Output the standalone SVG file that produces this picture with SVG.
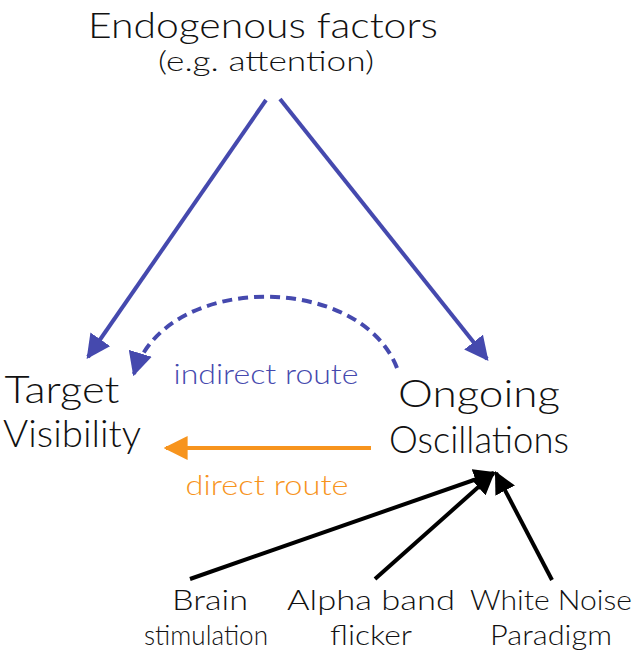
<svg xmlns="http://www.w3.org/2000/svg" width="638" height="657" viewBox="0 0 638 657">
<style>
text{font-family:Lato,"Open Sans","DejaVu Sans",sans-serif;font-weight:300;fill:#111;text-anchor:middle}
.big{font-size:38px}
.mid{font-size:28px}
.sm{font-size:28px}
.blue{stroke:#4549ae;stroke-width:4;fill:none}
.orange{stroke:#f7941d;stroke-width:4;fill:none}
.black{stroke:#000;stroke-width:4;fill:none}
</style>
<defs>
<marker id="ab" viewBox="0 0 10 10" refX="9" refY="5" markerWidth="6" markerHeight="6" markerUnits="strokeWidth" orient="auto"><path d="M0,0L10,5L0,10z" fill="#4549ae"/></marker>
<marker id="ao" viewBox="0 0 10 10" refX="9" refY="5" markerWidth="6" markerHeight="6" markerUnits="strokeWidth" orient="auto"><path d="M0,0L10,5L0,10z" fill="#f7941d"/></marker>
<marker id="ak" viewBox="0 0 10 10" refX="9" refY="5" markerWidth="5.5" markerHeight="5.5" markerUnits="strokeWidth" orient="auto"><path d="M0,0L10,5L0,10z" fill="#000"/></marker>
</defs>
<g id="endogenous">
<text x="263" y="38" style="font-size:36px" textLength="350" lengthAdjust="spacingAndGlyphs">Endogenous factors</text>
<text class="mid" x="266" y="71" textLength="216" lengthAdjust="spacingAndGlyphs">(e.g. attention)</text>
</g>
<g id="target">
<text class="big" x="62" y="403" textLength="115" lengthAdjust="spacingAndGlyphs">Target</text>
<text class="big" x="72" y="447" textLength="138" lengthAdjust="spacingAndGlyphs">Visibility</text>
</g>
<g id="oscillations">
<text class="big" x="479" y="407" textLength="162" lengthAdjust="spacingAndGlyphs">Ongoing</text>
<text class="big" x="479" y="453" textLength="180" lengthAdjust="spacingAndGlyphs">Oscillations</text>
</g>
<g id="brain">
<text class="sm" x="210" y="610" textLength="76" lengthAdjust="spacingAndGlyphs">Brain</text>
<text class="sm" x="206" y="645" textLength="124" lengthAdjust="spacingAndGlyphs">stimulation</text>
</g>
<g id="alpha">
<text class="sm" x="371" y="610" textLength="168" lengthAdjust="spacingAndGlyphs">Alpha band</text>
<text class="sm" x="371" y="645" textLength="82" lengthAdjust="spacingAndGlyphs">flicker</text>
</g>
<g id="whitenoise">
<text class="sm" x="551" y="610" textLength="162" lengthAdjust="spacingAndGlyphs">White Noise</text>
<text class="sm" x="551" y="645" textLength="122" lengthAdjust="spacingAndGlyphs">Paradigm</text>
</g>
<g id="connectors">
<line class="blue" x1="266" y1="100" x2="88" y2="357" marker-end="url(#ab)"/>
<line class="blue" x1="280" y1="99" x2="487" y2="359" marker-end="url(#ab)"/>
<path class="blue" d="M397,368 C360,272 165,272 134,374" stroke-dasharray="10,6" marker-end="url(#ab)"/>
<line class="orange" x1="371" y1="448" x2="166" y2="448" marker-end="url(#ao)"/>
<line class="black" x1="190" y1="579" x2="494" y2="473" marker-end="url(#ak)"/>
<line class="black" x1="375" y1="579" x2="493" y2="474" marker-end="url(#ak)"/>
<line class="black" x1="552" y1="580" x2="496" y2="473" marker-end="url(#ak)"/>
<text class="mid" x="266" y="384" style="fill:#4549ae" textLength="185" lengthAdjust="spacingAndGlyphs">indirect route</text>
<text class="mid" x="267" y="495" style="fill:#f7941d" textLength="163" lengthAdjust="spacingAndGlyphs">direct route</text>
</g>
</svg>
